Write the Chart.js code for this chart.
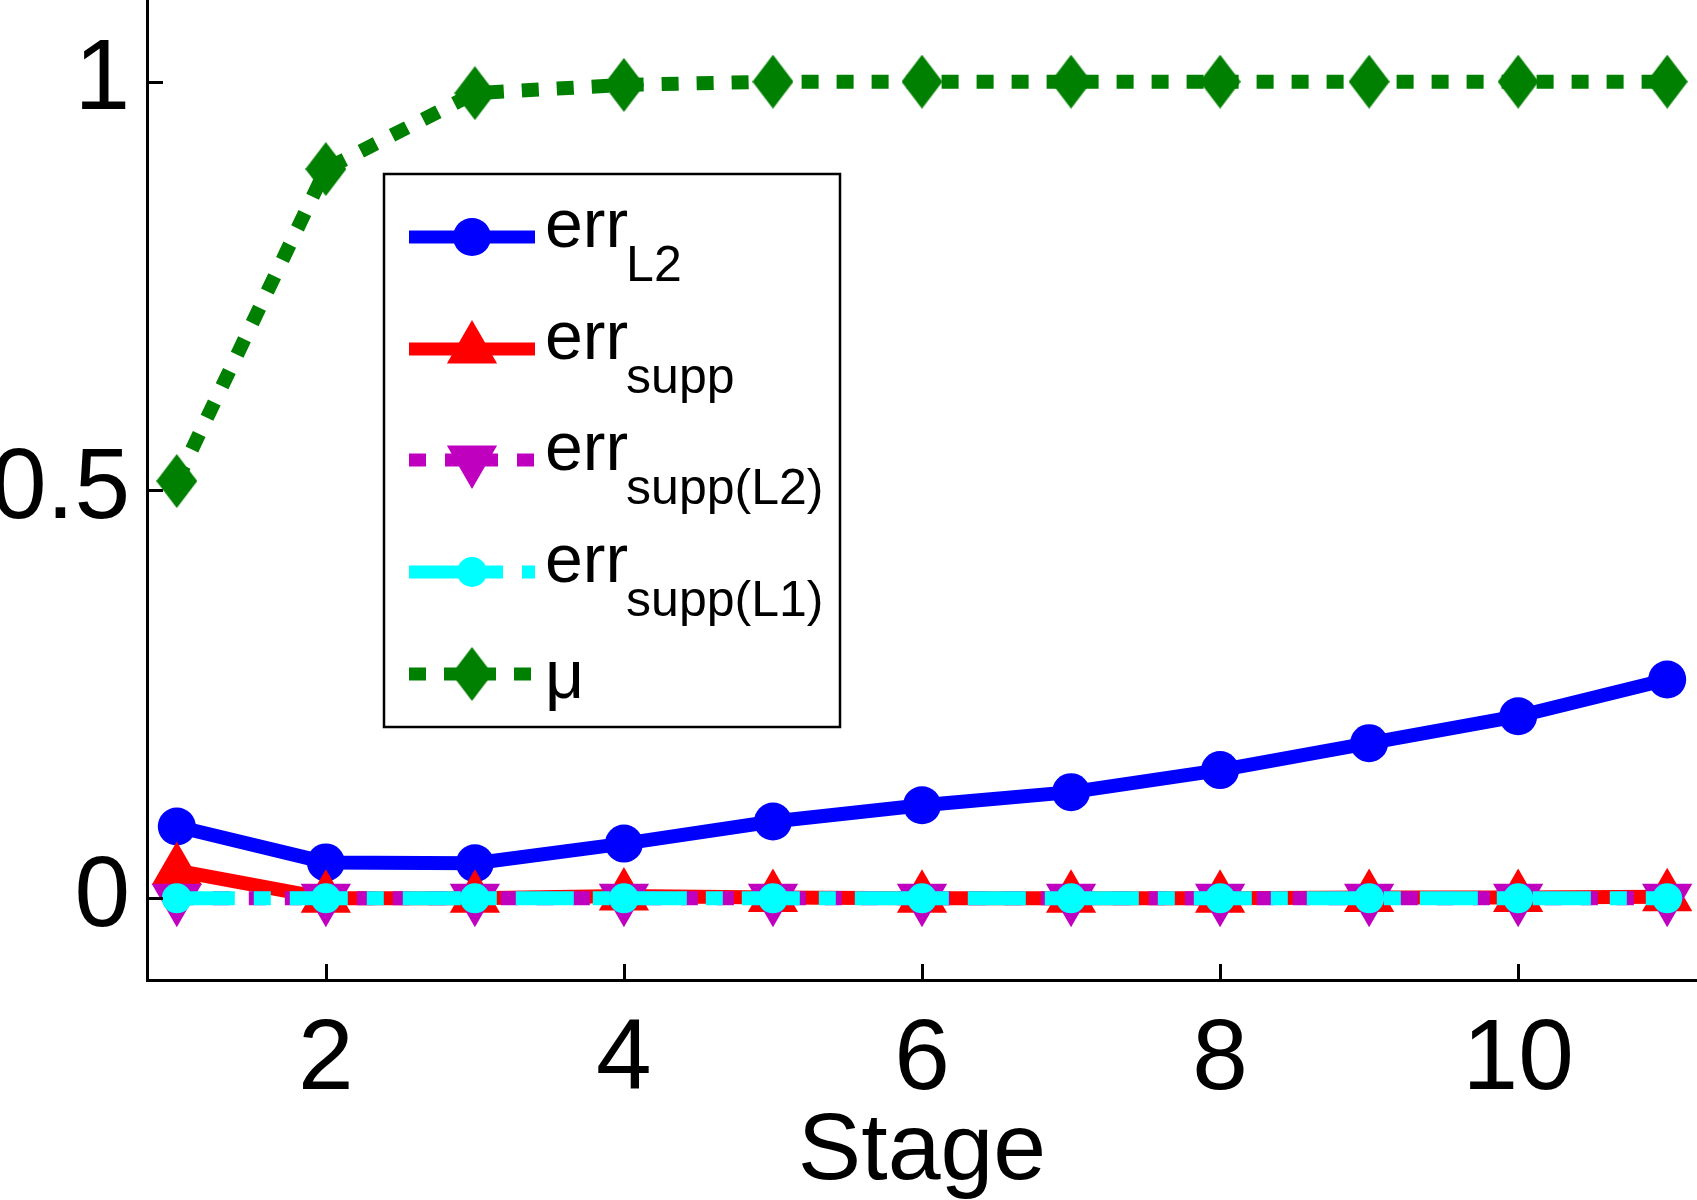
<!DOCTYPE html>
<html><head><meta charset="utf-8">
<script src="https://cdn.jsdelivr.net/npm/chart.js@4.4.1/dist/chart.umd.min.js"></script>
<style>html,body{margin:0;padding:0;background:#fff}#wrap{width:1697px;height:1200px}</style>
</head><body><div id="wrap"><canvas id="c" width="1697" height="1200"></canvas></div>
<script>
/* values */
var stages=[1,2,3,4,5,6,7,8,9,10,11];
var err_l2=[0.088,0.044,0.043,0.067,0.094,0.114,0.130,0.157,0.190,0.223,0.268];
var err_supp=[0.034,0,0,0.003,0.001,0,0,0,0.001,0.001,0.002];
var err_supp_l2=[0,0,0,0,0,0,0,0,0,0,0];
var err_supp_l1=[0,0,0,0,0,0,0,0,0,0,0];
var mu=[0.511,0.893,0.986,0.996,1,1,1,1,1,1,1];
var x_ticks=[2,4,6,8,10];
var y_ticks=[0,0.5,1];
var x_range=[0.8,11.2];var y_range=[-0.1,1.1];
var F='"Liberation Sans", Arial, sans-serif';
/* ------------------------------------------------------------------ */
var mk_diamond=function(w,h,col){var cv=document.createElement('canvas');cv.width=w;cv.height=h;
	let c=cv.getContext('2d');c.fillStyle=col;c.beginPath();c.moveTo(w/2,0);c.lineTo(w,h/2);c.lineTo(w/2,h);c.lineTo(0,h/2);c.closePath();c.fill();return cv;};
var diamond=mk_diamond(41,54,'#008000');
var pts=function(arr){return stages.map(function(s,i){return {x:s,y:arr[i]}});};
var series=[
	{key:'l2',label:'err',sub:'L2',data:err_l2,color:'#0000ff',dash:[],style:'circle',r:19,order:5},
	{key:'supp',label:'err',sub:'supp',data:err_supp,color:'#ff0000',dash:[],style:'triangle',r:29,order:4},
	{key:'supp_l2',label:'err',sub:'supp(L2)',data:err_supp_l2,color:'#bf00bf',dash:[17,19],style:'triangle',rot:180,r:29,order:3},
	{key:'supp_l1',label:'err',sub:'supp(L1)',data:err_supp_l1,color:'#00ffff',dash:[58,19,17,19],style:'circle',r:15,order:2},
	{key:'mu',label:'\u03bc',sub:'',data:mu,color:'#008000',dash:[17,18],style:diamond,r:27,order:1}
];
/* ------------------------------------------------------------------ */
var draw_marker=function(ctx,s,x,y){ctx.save();ctx.fillStyle=s.color;ctx.beginPath();
	if(s.style=='circle'){ctx.arc(x,y,s.r,0,Math.PI*2);ctx.fill();}
	else if(s.style=='triangle'){let k=s.rot?-1:1;
		ctx.moveTo(x,y-k*s.r);ctx.lineTo(x+0.866*s.r,y+k*0.5*s.r);ctx.lineTo(x-0.866*s.r,y+k*0.5*s.r);ctx.closePath();ctx.fill();}
	else{ctx.drawImage(s.style,x-s.style.width/2,y-s.style.height/2);}
	ctx.restore();};
var deco={id:'deco',afterDraw:function(chart){let ctx=chart.ctx;let xs=chart.scales.x,ys=chart.scales.y;let a=chart.chartArea;
	ctx.save();ctx.strokeStyle='#000';ctx.lineWidth=3;ctx.lineCap='butt';
	//ticks point inwards like matlab
	x_ticks.forEach(function(v){let px=Math.round(xs.getPixelForValue(v))+0.5;ctx.beginPath();ctx.moveTo(px,a.bottom);ctx.lineTo(px,a.bottom-16);ctx.stroke();});
	y_ticks.forEach(function(v){let py=Math.round(ys.getPixelForValue(v))+0.5;ctx.beginPath();ctx.moveTo(a.left,py);ctx.lineTo(a.left+16,py);ctx.stroke();});
	//legend box
	let bx=384,by=174,bw=456,bh=553;
	ctx.fillStyle='#fff';ctx.fillRect(bx,by,bw,bh);ctx.lineWidth=2.5;ctx.strokeRect(bx,by,bw,bh);
	let rows=[237,349,460,572,674];
	for(let i=0;i<series.length;i++){let s=series[i];let ly=rows[i];
		ctx.save();ctx.strokeStyle=s.color;ctx.lineWidth=13;ctx.setLineDash(s.dash);ctx.beginPath();ctx.moveTo(409,ly);ctx.lineTo(535,ly);ctx.stroke();ctx.restore();
		draw_marker(ctx,s,472,ly);
		ctx.fillStyle='#000';ctx.textAlign='left';ctx.textBaseline='alphabetic';ctx.font='68px '+F;
		if(s.sub){ctx.fillText(s.label,545,ly+10);let w=ctx.measureText(s.label).width;ctx.font='50px '+F;ctx.fillText(s.sub,545+w-2,ly+44);}
		else{ctx.fillText(s.label,545,ly+24);}
	}
	ctx.restore();}};
/* ------------------------------------------------------------------ */
var zero_pad=function(s){s.paddingLeft=0;s.paddingRight=0;s.paddingTop=0;s.paddingBottom=0;};
new Chart(document.getElementById('c'),{type:'line',
	data:{datasets:series.map(function(s){return {label:s.label+s.sub,data:pts(s.data),order:s.order,
		borderColor:s.color,backgroundColor:s.color,borderWidth:14,borderDash:s.dash,borderCapStyle:'butt',
		pointStyle:s.style,pointRadius:s.r,pointRotation:s.rot||0,pointBorderWidth:0,pointBackgroundColor:s.color,
		tension:0,clip:false,fill:false};})},
	options:{responsive:false,animation:false,events:[],
		layout:{padding:0,autoPadding:false},
		plugins:{legend:{display:false},tooltip:{enabled:false}},
		scales:{
			x:{type:'linear',min:x_range[0],max:x_range[1],
				afterBuildTicks:function(s){s.ticks=x_ticks.map(function(v){return {value:v}});},
				afterFit:function(s){s.height=220;zero_pad(s);},
				grid:{display:true,drawOnChartArea:false,drawTicks:false},
				border:{display:true,color:'#000',width:3},
				ticks:{color:'#000',font:{family:F,size:100},padding:21,maxRotation:0,autoSkip:false,callback:function(v){return String(v)}},
				title:{display:true,text:'Stage',color:'#000',font:{family:F,size:95,lineHeight:1},padding:{top:0,bottom:0}}},
			y:{type:'linear',min:y_range[0],max:y_range[1],
				afterBuildTicks:function(s){s.ticks=y_ticks.map(function(v){return {value:v}});},
				afterFit:function(s){s.width=147;zero_pad(s);},
				grid:{display:true,drawOnChartArea:false,drawTicks:false},
				border:{display:true,color:'#000',width:3},
				ticks:{color:'#000',font:{family:F,size:100},padding:17,autoSkip:false,callback:function(v){return String(v)}}}
		}},
	plugins:[deco]});
</script></body></html>
